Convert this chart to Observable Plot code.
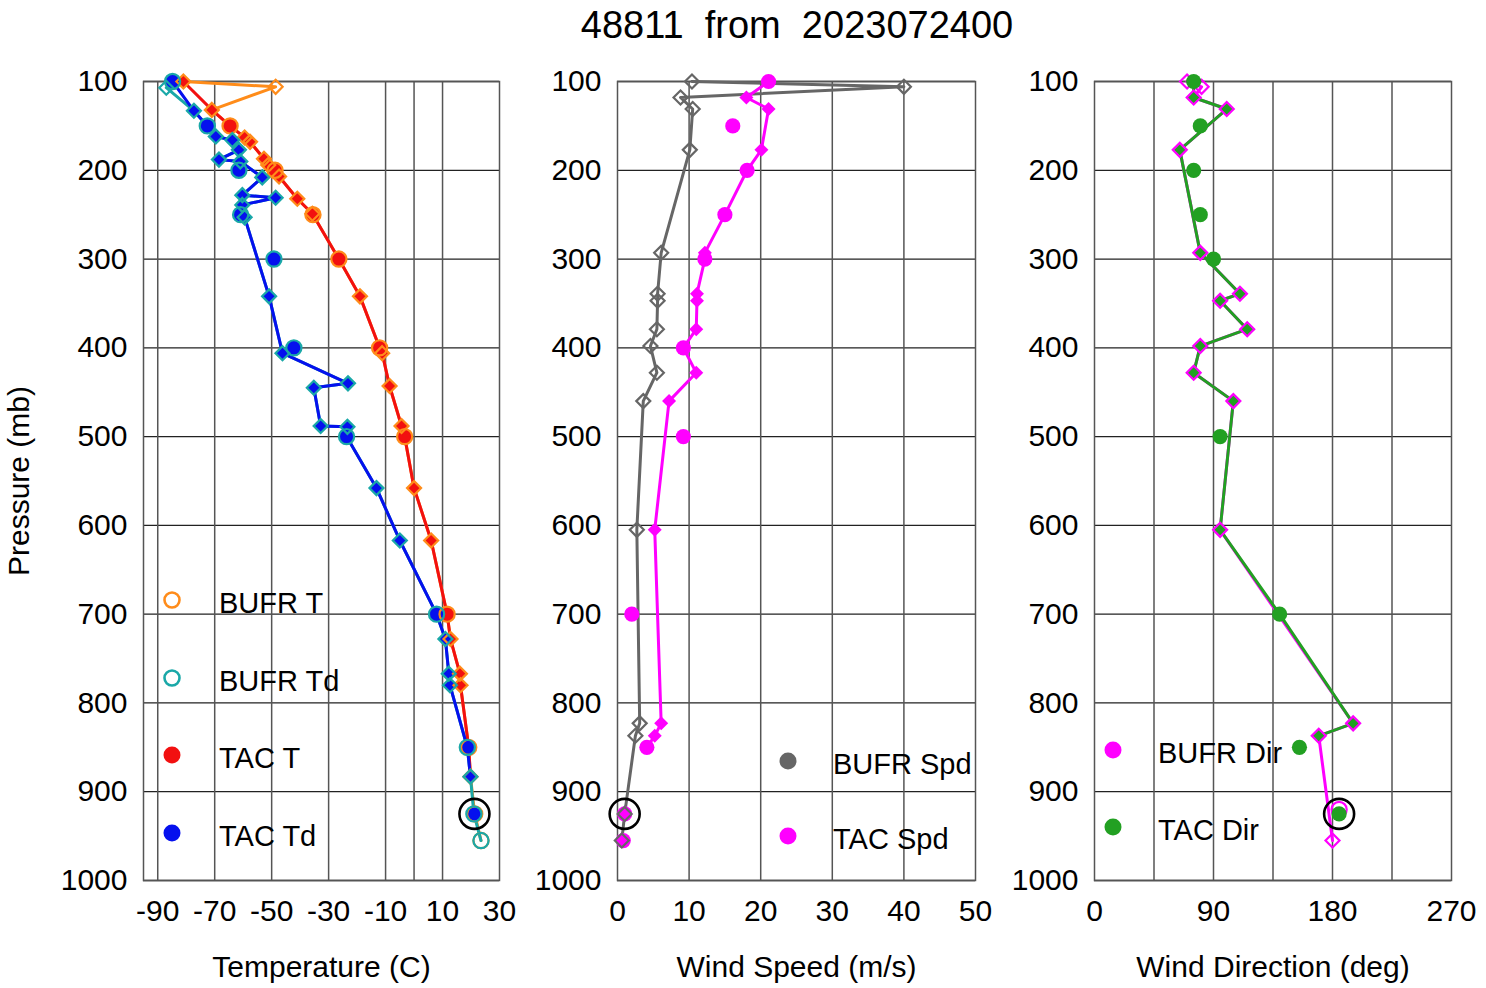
<!DOCTYPE html>
<html><head><meta charset="utf-8">
<script src="https://cdn.jsdelivr.net/npm/d3@7"></script>
<script src="https://cdn.jsdelivr.net/npm/@observablehq/plot@0.6"></script>
<style>
body{margin:0;background:#fff;font-family:"Liberation Sans",Arial,Helvetica,sans-serif;}
#page{position:relative;width:1486px;height:988px;overflow:hidden;background:#fff;}
.panel{position:absolute;top:0;}
#title{position:absolute;top:6px;left:797px;transform:translateX(-50%);font-size:38px;line-height:38px;white-space:pre;color:#000;}
.leg{position:absolute;display:flex;align-items:center;font-size:29px;line-height:29px;white-space:pre;color:#000;}
</style></head>
<body><div id="page"><div id="title">48811  from  2023072400</div></div>
<script>
// ---------- DATA ----------
const pressureTicks = [100,200,300,400,500,600,700,800,900,1000];
const tempTicks = [-90,-70,-50,-30,-10,10,30];
const tempGrid = [-90,-70,-50,-30,-10,0,10];
const spdTicks = [0,10,20,30,40,50];
const spdGrid = [10,20,30,40];
const dirTicks = [0,90,180,270];
const dirGrid = [45,90,135,180,225];

// [pressure (mb), value, level type]
const tacT = [[100,-81,"sig"],[132,-71,"sig"],[150,-64.6,"std"],[163,-59.5,"sig"],[168,-57.6,"sig"],[187,-52.7,"sig"],[194,-51.2,"sig"],[200,-48.8,"std"],[207,-47.4,"sig"],[232,-41,"sig"],[249,-35.7,"sig"],[250,-35.5,"std"],[300,-26.4,"std"],[342,-19,"sig"],[400,-12.1,"std"],[406,-11.2,"sig"],[443,-8.6,"sig"],[488,-4.4,"sig"],[500,-3.3,"std"],[558,0,"sig"],[617,6,"sig"],[700,11.6,"std"],[728,12.8,"sig"],[767,16.1,"sig"],[780,16.3,"sig"],[850,19.2,"std"],[883,19.8,"sig"]];
const tacTOff = [[925,21.3]];
const bufrT = [[100,-81,"sig"],[106,-48.6,"sig"],[132,-71,"sig"],[150,-64.6,"std"],[163,-59.5,"sig"],[168,-57.6,"sig"],[187,-52.7,"sig"],[194,-51.2,"sig"],[200,-48.8,"std"],[207,-47.4,"sig"],[232,-41,"sig"],[249,-35.7,"sig"],[250,-35.5,"std"],[300,-26.4,"std"],[342,-19,"sig"],[400,-12.1,"std"],[406,-11.2,"sig"],[443,-8.6,"sig"],[488,-4.4,"sig"],[500,-3.3,"std"],[558,0,"sig"],[617,6,"sig"],[700,11.6,"std"],[728,12.8,"sig"],[767,16.1,"sig"],[780,16.3,"sig"],[850,19.2,"std"],[883,19.8,"sig"],[925,21.3,"std"],[955,23.5,"std"]];
const tacTd = [[100,-84.8,"std"],[133,-77.3,"sig"],[150,-72.6,"std"],[162,-69.6,"sig"],[166,-63.8,"sig"],[177,-61.5,"sig"],[188,-68.5,"sig"],[190,-61,"sig"],[208,-53.3,"sig"],[228,-60.3,"sig"],[231,-48.6,"sig"],[239,-60.3,"sig"],[250,-60.9,"std"],[253,-59.5,"sig"],[342,-50.9,"sig"],[406,-46.2,"sig"],[440,-23.2,"sig"],[445,-35.2,"sig"],[488,-32.8,"sig"],[489,-23.4,"sig"],[500,-23.7,"std"],[558,-13.2,"sig"],[617,-5,"sig"],[700,7.9,"std"],[728,11,"sig"],[767,12.2,"sig"],[780,12.6,"sig"],[850,18.7,"std"],[883,19.8,"sig"]];
const tacTdOff = [[200,-61.5],[300,-49.2],[400,-42.2],[925,21]];
const bufrTd = [[100,-84.8,"std"],[107,-87,"sig"],[133,-77.3,"sig"],[150,-72.6,"std"],[162,-69.6,"sig"],[166,-63.8,"sig"],[177,-61.5,"sig"],[188,-68.5,"sig"],[190,-61,"sig"],[208,-53.3,"sig"],[228,-60.3,"sig"],[231,-48.6,"sig"],[239,-60.3,"sig"],[250,-60.9,"std"],[253,-59.5,"sig"],[342,-50.9,"sig"],[406,-46.2,"sig"],[440,-23.2,"sig"],[445,-35.2,"sig"],[488,-32.8,"sig"],[489,-23.4,"sig"],[500,-23.7,"std"],[558,-13.2,"sig"],[617,-5,"sig"],[700,7.9,"std"],[728,11,"sig"],[767,12.2,"sig"],[780,12.6,"sig"],[850,18.7,"std"],[883,19.8,"sig"],[925,21,"std"],[955,23.5,"std"]];
const bufrTdOff = [[200,-61.5],[300,-49.2],[400,-42.2]];

const bufrSpd = [[100,10.4,"sig"],[106,40,"sig"],[118,8.8,"sig"],[131,10.5,"sig"],[177,10.1,"sig"],[293,6.1,"sig"],[339,5.6,"sig"],[347,5.6,"sig"],[379,5.5,"sig"],[398,4.6,"sig"],[428,5.5,"sig"],[460,3.6,"sig"],[605,2.7,"sig"],[823,3.1,"sig"],[837,2.5,"sig"],[925,1,"sig"],[955,0.6,"sig"]];
const tacSpd = [[100,21.1,"std"],[118,18,"sig"],[131,21.1,"sig"],[177,20.1,"sig"],[200,18.1,"std"],[250,15,"std"],[293,12.2,"sig"],[300,12.2,"std"],[339,11.1,"sig"],[347,11.1,"sig"],[379,11,"sig"],[400,9.2,"std"],[428,11,"sig"],[460,7.2,"sig"],[605,5.2,"sig"],[823,6.1,"sig"],[837,5.2,"sig"],[850,4.1,"std"]];
const tacSpdOff = [[150,16.1],[500,9.2],[700,2],[925,1],[955,0.8]];

const bufrDir = [[100,70,"sig"],[106,81,"sig"],[118,75,"sig"],[131,100,"sig"],[177,64.5,"sig"],[293,80,"sig"],[339,110,"sig"],[347,95,"sig"],[379,115.5,"sig"],[398,80,"sig"],[428,75,"sig"],[460,105,"sig"],[605,95,"sig"],[823,195.6,"sig"],[837,169.6,"sig"],[955,180,"sig"]];
const bufrDirOff = [[920,185]];
const tacDir = [[100,75,"std"],[118,75,"sig"],[131,100,"sig"],[177,64.5,"sig"],[293,80,"sig"],[339,110,"sig"],[347,95,"sig"],[379,115.5,"sig"],[398,80,"sig"],[428,75,"sig"],[460,105,"sig"],[605,95,"sig"],[700,140,"std"],[823,195.6,"sig"],[837,169.6,"sig"]];
const tacDirOff = [[150,80],[200,75],[250,80],[300,90],[500,95],[850,155],[925,185]];

const flagged = {temp:[[925,21.2]], spd:[[925,1]], dir:[[925,185]]};

// ---------- STYLE ----------
const C = {orange:"#ff8c1a", teal:"#1aa8a8", red:"#f21010", blue:"#0510ee", gray:"#666666", magenta:"#ff00ff", green:"#22a022"};
const rows = a => a.map(([p,v,lev]) => ({p, v, lev}));
const LW = 3, RD = 6.3, RC = 7.6, FS = 30;

function lineMarks(arr, color) {
  return Plot.line(rows(arr), {x:"v", y:"p", stroke:color, strokeWidth:LW});
}
function filledMarks(arr, color, off) {
  const r = rows(arr);
  return [
    Plot.dot(r.filter(d => d.lev === "sig"), {x:"v", y:"p", symbol:"diamond2", r:RD, fill:color}),
    Plot.dot(r.filter(d => d.lev === "std"), {x:"v", y:"p", r:RC, fill:color}),
    off ? Plot.dot(rows(off), {x:"v", y:"p", r:RC, fill:color}) : null
  ];
}
function openMarks(arr, color, off) {
  const r = rows(arr);
  return [
    Plot.dot(r.filter(d => d.lev === "sig"), {x:"v", y:"p", symbol:"diamond2", r:RD, fill:"none", stroke:color, strokeWidth:2.2}),
    Plot.dot(r.filter(d => d.lev === "std"), {x:"v", y:"p", r:RC, fill:"none", stroke:color, strokeWidth:2.2}),
    off ? Plot.dot(rows(off), {x:"v", y:"p", r:RC, fill:"none", stroke:color, strokeWidth:2.2}) : null
  ];
}
function ring(arr) {
  return Plot.dot(rows(arr), {x:"v", y:"p", r:15, fill:"none", stroke:"#000", strokeWidth:2.6});
}

function panel({left, width, mL, mR, domain, ticks, grid, label, ylabel, marks}) {
  const svg = Plot.plot({
    width, height: 988,
    marginLeft: mL, marginRight: mR, marginTop: 81, marginBottom: 108,
    style: {fontFamily: "'Liberation Sans', Arial, Helvetica, sans-serif", background: "transparent", overflow: "visible"},
    x: {domain, axis: null},
    y: {domain: [1000, 100], axis: null},
    marks: [
      Plot.gridY(pressureTicks, {stroke:"#222", strokeOpacity:1, strokeWidth:1.3}),
      Plot.gridX(grid, {stroke:"#555", strokeOpacity:1, strokeWidth:1.5}),
      Plot.frame({stroke:"#555", strokeWidth:1.5}),
      ...marks,
      Plot.axisY(pressureTicks, {tickSize:0, tickPadding:16, fontSize:FS, tickFormat: d => String(d), label:null, fill:"#000"}),
      Plot.axisX(ticks, {tickSize:0, tickPadding:19, fontSize:FS, tickFormat: d => String(d), label:null, fill:"#000"}),
      Plot.text([label], {frameAnchor:"bottom", dy:96, fontSize:FS, fill:"#000"}),
      ylabel ? Plot.text([ylabel], {frameAnchor:"left", dx:-124, rotate:-90, textAnchor:"middle", fontSize:FS, fill:"#000"}) : null
    ].flat().filter(Boolean)
  });
  svg.classList.add("panel");
  svg.style.left = left + "px";
  document.getElementById("page").appendChild(svg);
}

panel({left:0, width:520, mL:143, mR:21, domain:[-95,30], ticks:tempTicks, grid:tempGrid,
  label:"Temperature (C)", ylabel:"Pressure (mb)",
  marks:[
    lineMarks(bufrT, C.orange), lineMarks(bufrTd, C.teal),
    lineMarks(tacT, C.red), lineMarks(tacTd, C.blue),
    filledMarks(tacT, C.red, tacTOff), filledMarks(tacTd, C.blue, tacTdOff),
    openMarks(bufrT, C.orange), openMarks(bufrTd, C.teal, bufrTdOff),
    ring(flagged.temp)
  ].flat(2)});

panel({left:520, width:480, mL:97, mR:25, domain:[0,50], ticks:spdTicks, grid:spdGrid,
  label:"Wind Speed (m/s)",
  marks:[
    lineMarks(bufrSpd, C.gray), lineMarks(tacSpd, C.magenta),
    filledMarks(tacSpd, C.magenta, tacSpdOff),
    openMarks(bufrSpd, C.gray),
    ring(flagged.spd)
  ].flat(2)});

panel({left:1000, width:486, mL:94, mR:35, domain:[0,270], ticks:dirTicks, grid:dirGrid,
  label:"Wind Direction (deg)",
  marks:[
    lineMarks(bufrDir, C.magenta), lineMarks(tacDir, C.green),
    Plot.dot(rows(tacDir).filter(d => d.lev === "sig"), {x:"v", y:"p", symbol:"diamond2", r:RD, fill:C.green}),
    openMarks(bufrDir, C.magenta, bufrDirOff),
    Plot.dot(rows(tacDir).filter(d => d.lev === "std"), {x:"v", y:"p", r:RC, fill:C.green}),
    Plot.dot(rows(tacDirOff), {x:"v", y:"p", r:RC, fill:C.green}),
    ring(flagged.dir)
  ].flat(2)});

// ---------- LEGENDS ----------
const legends = [
  {x:172, y:600, tx:219, text:"BUFR T", color:C.orange, open:true},
  {x:172, y:678, tx:219, text:"BUFR Td", color:C.teal, open:true},
  {x:172, y:755, tx:219, text:"TAC T", color:C.red, open:false},
  {x:172, y:833, tx:219, text:"TAC Td", color:C.blue, open:false},
  {x:788, y:761, tx:833, text:"BUFR Spd", color:C.gray, open:false},
  {x:788, y:836, tx:833, text:"TAC Spd", color:C.magenta, open:false},
  {x:1113, y:750, tx:1158, text:"BUFR Dir", color:C.magenta, open:false},
  {x:1113, y:827, tx:1158, text:"TAC Dir", color:C.green, open:false}
];
const page = d3.select("#page");
for (const l of legends) {
  const s = page.append("svg").style("position","absolute").style("left",(l.x-12)+"px").style("top",(l.y-12)+"px")
    .attr("width",24).attr("height",24);
  s.append("circle").attr("cx",12).attr("cy",12).attr("r", l.open ? 7.5 : 8.5)
    .attr("fill", l.open ? "none" : l.color).attr("stroke", l.open ? l.color : "none").attr("stroke-width", 2.6);
  page.append("div").attr("class","leg").style("left", l.tx+"px").style("top",(l.y-11)+"px").text(l.text);
}
</script></body></html>
